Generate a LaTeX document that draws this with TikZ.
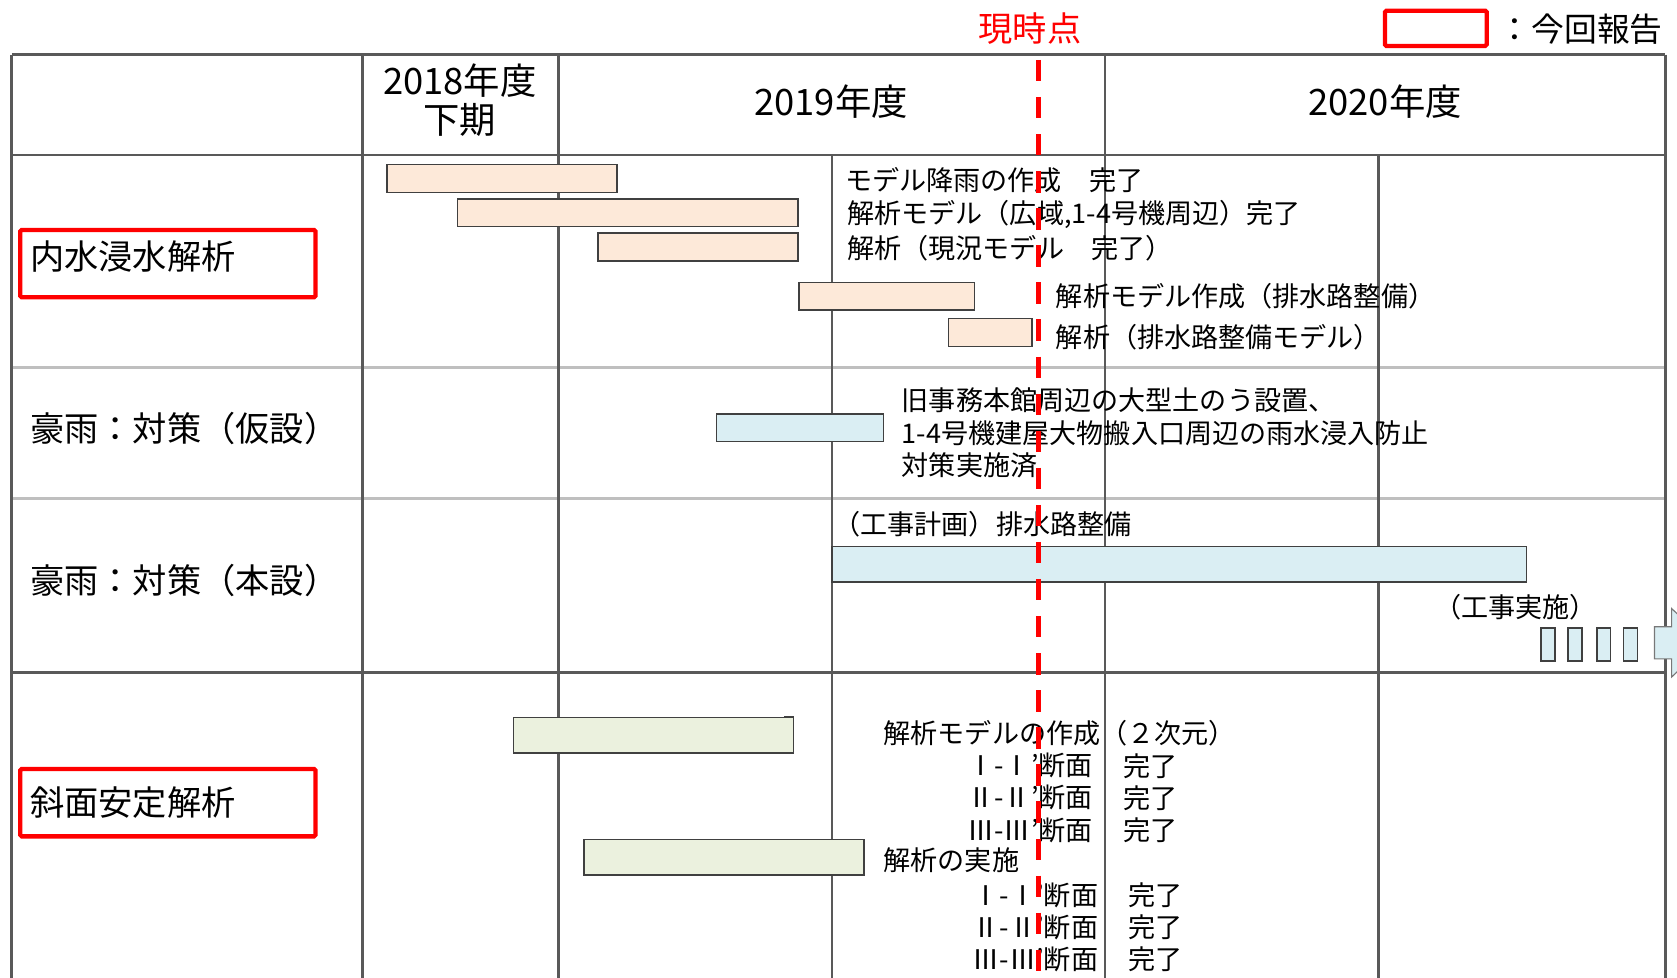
\documentclass[tikz,border=0pt]{standalone}
\usepackage{fontspec}
\setmainfont{Noto Sans CJK JP}
\usepackage{tikz}

\definecolor{gridDark}{RGB}{89,89,89}
\definecolor{gridLight}{RGB}{191,191,191}
\definecolor{barEdge}{RGB}{64,64,64}
\definecolor{peach}{RGB}{253,233,217}
\definecolor{skyblue}{RGB}{218,238,243}
\definecolor{sage}{RGB}{235,241,222}

\tikzset{
  gridd/.style={draw=gridDark, line width=1.8pt},
  gridl/.style={draw=gridLight, line width=2.2pt},
  bar/.style={draw=barEdge, line width=1pt},
  redbox/.style={draw=red, line width=3pt, rounded corners=1pt},
  body/.style={inner sep=0.75pt, font=\fontsize{19}{22}\selectfont},
  head/.style={inner sep=0.75pt, font=\fontsize{25.5}{30}\selectfont},
  rowlbl/.style={inner sep=0.75pt, font=\fontsize{24}{28}\selectfont},
}

\begin{document}
\begin{tikzpicture}[x=0.75pt,y=0.75pt,yscale=-1,xscale=1]
    \useasboundingbox (0,0) rectangle (1568,914);
    \clip (0,0) rectangle (1568,914);
    % grid
    \draw [gridl] (11,344) -- (1557,344) ;
    \draw [gridl] (11,466) -- (1557,466) ;
    \draw [gridd] (11,51) -- (1557,51) ;
    \draw [gridd] (11,145) -- (1557,145) ;
    \draw [gridd] (11,629) -- (1557,629) ;
    \draw [gridd] (11,51) -- (11,914) ;
    \draw [gridd] (339,51) -- (339,914) ;
    \draw [gridd] (522,51) -- (522,914) ;
    \draw [gridd] (778,145) -- (778,914) ;
    \draw [gridd] (1033,51) -- (1033,914) ;
    \draw [gridd] (1289,145) -- (1289,914) ;
    \draw [gridd] (1557,51) -- (1557,914) ;
    % bars
    \draw [bar, fill=peach] (362,154) rectangle (577,180) ;
    \draw [bar, fill=peach] (428,186) rectangle (746,212) ;
    \draw [bar, fill=peach] (559,218) rectangle (746,244) ;
    \draw [bar, fill=peach] (747,264) rectangle (911,290) ;
    \draw [bar, fill=peach] (887,298) rectangle (965,324) ;
    \draw [bar, fill=skyblue] (670,387) rectangle (826,413) ;
    \draw [bar, fill=skyblue] (778,511) rectangle (1427,544) ;
    \draw [bar, fill=skyblue] (1441,587) rectangle (1454,618) ;
    \draw [bar, fill=skyblue] (1466,587) rectangle (1479,618) ;
    \draw [bar, fill=skyblue] (1493,587) rectangle (1506,618) ;
    \draw [bar, fill=skyblue] (1518,587) rectangle (1531,618) ;
    \draw [draw={rgb, 255:red, 120; green, 120; blue, 120 }, line width=0.8pt, fill=skyblue] (1547,586) -- (1563,586) -- (1563,569) -- (1597,601) -- (1563,633) -- (1563,616) -- (1547,616) -- cycle ;
    \draw [bar, fill=sage] (480,671) rectangle (742,704) ;
    \draw [draw=barEdge, line width=1.5pt] (733,670) -- (742,670) ;
    \draw [bar, fill=sage] (546,785) rectangle (808,818) ;
    % header
    \draw (430,75) node [head] (h2018) {2018年度};
    \draw (430,112) node [head] (hlow) {下期};
    \draw (777,95) node [head] (h2019) {2019年度};
    \draw (1295,95) node [head] (h2020) {2020年度};
    % row labels
    \draw (27,240) node [anchor=west] [rowlbl] (lnaisui) {内水浸水解析};
    \draw (27,401) node [anchor=west] [rowlbl] (lkasetsu) {豪雨：対策（仮設）};
    \draw (27,543) node [anchor=west] [rowlbl] (lhonsetsu) {豪雨：対策（本設）};
    \draw (27,750) node [anchor=west] [rowlbl] (lshamen) {斜面安定解析};
    \draw [redbox] (19,215) rectangle (295,278) ;
    \draw [redbox] (19,719) rectangle (295,782) ;
    % task texts
    \draw (789,168) node [anchor=west] [body] (n1) {モデル降雨の作成　完了};
    \draw (791,201) node [anchor=west] [body] (n2) {解析モデル（広域,1-4号機周辺）完了};
    \draw (791,232) node [anchor=west] [body] (n3) {解析（現況モデル　完了）};
    \draw (986,277) node [anchor=west] [body] (n4) {解析モデル作成（排水路整備）};
    \draw (986,315) node [anchor=west] [body] (n5) {解析（排水路整備モデル）};
    \draw (842,405) node [anchor=west] [body, align=left, font=\fontsize{19}{22.9}\selectfont] (k1) {旧事務本館周辺の大型土のう設置、\\1-4号機建屋大物搬入口周辺の雨水浸入防止\\対策実施済};
    \draw (778,490) node [anchor=west] [body] (h1) {（工事計画）排水路整備};
    \draw (1340,568) node [anchor=west] [body] (h2) {（工事実施）};
    \draw (825,686) node [anchor=west] [body] (s1) {解析モデルの作成（２次元）};
    \draw (1023,716) node [anchor=east] [body] (s1a) {Ⅰ-Ⅰ’断面};
    \draw (1049,716) node [anchor=west] [body] (s1ad) {完了};
    \draw (1023,746) node [anchor=east] [body] (s1b) {Ⅱ-Ⅱ’断面};
    \draw (1049,746) node [anchor=west] [body] (s1bd) {完了};
    \draw (1023,776) node [anchor=east] [body] (s1c) {Ⅲ-Ⅲ’断面};
    \draw (1049,776) node [anchor=west] [body] (s1cd) {完了};
    \draw (825,804) node [anchor=west] [body] (s2) {解析の実施};
    \draw (1028,837) node [anchor=east] [body] (s2a) {Ⅰ-Ⅰ’断面};
    \draw (1054,837) node [anchor=west] [body] (s2ad) {完了};
    \draw (1028,867) node [anchor=east] [body] (s2b) {Ⅱ-Ⅱ’断面};
    \draw (1054,867) node [anchor=west] [body] (s2bd) {完了};
    \draw (1028,897) node [anchor=east] [body] (s2c) {Ⅲ-Ⅲ’断面};
    \draw (1054,897) node [anchor=west] [body] (s2cd) {完了};
    % now line and legend
    \draw [draw=red, line width=3.4pt, dash pattern=on 15pt off 11pt] (971,56) -- (971,914) ;
    \draw (963,27) node [text=red, inner sep=0.75pt, font=\fontsize{24}{28}\selectfont] (now) {現時点};
    \draw [redbox] (1295,10) rectangle (1390,43) ;
    \draw (1400,27) node [anchor=west] [inner sep=0.75pt, font=\fontsize{23}{27}\selectfont] (legend) {：今回報告};
\end{tikzpicture}
\end{document}
